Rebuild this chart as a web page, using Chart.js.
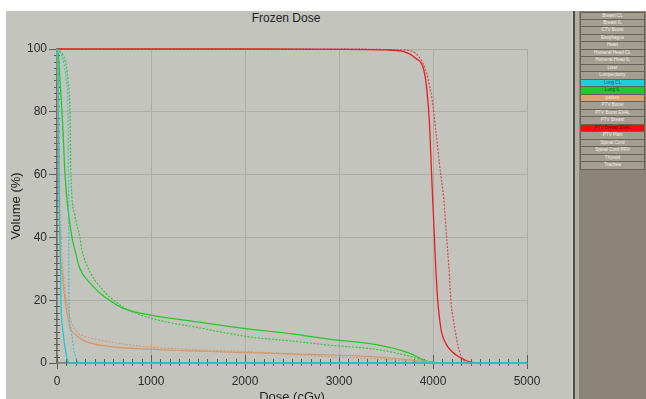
<!DOCTYPE html>
<html>
<head>
<meta charset="utf-8">
<script src="https://cdn.jsdelivr.net/npm/chart.js@4.4.1/dist/chart.umd.min.js"></script>
<style>
    html, body { margin: 0; padding: 0; background: #fff; overflow: hidden; width: 646px; height: 399px; }
    #plotBg { position: absolute; left: 6px; top: 11px; width: 566px; height: 388px; background: #c4c4bf; }
    #wrap { position: absolute; left: 0; top: 0; width: 572px; height: 410px; }
    #title { position: absolute; left: 0; top: 11px; width: 572px; height: 14px; line-height: 14px;
             text-align: center; font: 12px "Liberation Sans", Arial, sans-serif; color: #222; }
    #sepA { position: absolute; left: 572px; top: 11px; width: 1px; height: 388px; background: #d0d0cc; }
    #sepB { position: absolute; left: 573px; top: 11px; width: 2px; height: 388px; background: #4e4c46; }
    #sepC { position: absolute; left: 575px; top: 11px; width: 4px; height: 388px; background: #b2aea4; }
    #panel { position: absolute; left: 579px; top: 11px; width: 67px; height: 388px; background: #8c8577; }
    #list { position: absolute; left: 580px; top: 12px; width: 65px; }
    .item { box-sizing: border-box; height: 7.5px; border: 1px solid #66625a; border-top-width: 0;
            background: #a49e90; color: #f2efe8; font: 4.6px "Liberation Sans", Arial, sans-serif;
            line-height: 6.5px; text-align: center; white-space: nowrap; overflow: hidden; }
    .item:first-child { border-top-width: 1px; }
</style>
</head>
<body>
<div id="plotBg"></div>
<div id="title">Frozen Dose</div>
<div id="wrap"><canvas id="dvhChart" width="572" height="410"></canvas></div>
<div id="sepA"></div><div id="sepB"></div><div id="sepC"></div>
<div id="panel"></div>
<div id="list"></div>
<script>
// Structure list (right panel)
const structureNames = ['Breast CL', 'Breast IL', 'CTV Boost', 'Esophagus', 'Heart', 'Humeral Head CL',
    'Humeral Head IL', 'Liver', 'Lumpectomy', 'Lung CL', 'Lung IL', 'patient', 'PTV Boost',
    'PTV Boost EVAL', 'PTV Breast', 'PTV Breast EVAL', 'PTV Plan', 'Spinal Cord', 'Spinal Cord PRV',
    'Thyroid', 'Trachea'];
const highlighted = {
    'Lung CL': ['#19d3dc', '#1b4f70'],
    'Lung IL': ['#22c92a', '#10501a'],
    'patient': ['#d9a070', '#f4eadc'],
    'PTV Breast EVAL': ['#ff0a0a', '#5a0a0a']
};

// DVH curves: dose (cGy) / volume (%)
const redSolidDose = [0, 1000, 2000, 3000, 3500, 3670, 3817, 3900, 3935, 3965, 3985, 4000, 4015, 4030, 4050, 4070, 4093, 4140, 4190, 4300, 4430, 4500];
const redSolidVol  = [100, 100, 100, 99.9, 99.7, 99.3, 97, 93.6, 87, 75, 60, 50, 40, 30, 20, 14, 9.6, 6, 4, 1.5, 0.1, 0];
const redDotDose = [0, 1000, 2000, 3000, 3640, 3775, 3850, 3900, 3935, 3965, 3990, 4030, 4070, 4115, 4145, 4170, 4190, 4215, 4240, 4270, 4295, 4330, 4360];
const redDotVol  = [100, 100, 100, 100, 99.7, 99.3, 97.5, 95, 92, 88, 84, 74, 63, 52, 40, 30, 20, 14, 9.6, 5, 2.5, 0.8, 0];

const greenSolidDose = [0, 15, 32, 53, 70, 85, 117, 159, 190, 244, 350, 456, 700, 986, 1516, 2047, 2500, 2895, 3425, 3743, 3923, 4000, 4100];
const greenSolidVol  = [100, 98, 90, 80, 70, 60, 49, 40, 36, 30, 25.5, 22.3, 17.5, 15.3, 13, 10.8, 9.3, 7.6, 5.7, 3.2, 0.7, 0.2, 0];
const greenDotDose = [0, 40, 85, 117, 138, 148, 190, 244, 265, 340, 456, 700, 986, 1516, 2047, 2500, 2895, 3425, 3743, 3955, 4100];
const greenDotVol  = [100, 99, 96.5, 90, 80, 60, 47, 40, 36, 29.7, 24.3, 17.9, 14.4, 11.2, 8.3, 7, 5.7, 4.2, 2.2, 0.4, 0];

const cyanSolidDose = [0, 10, 15, 21, 32, 42, 64, 90, 117, 140, 5000];
const cyanSolidVol  = [100, 95, 85, 60, 40, 20, 10, 4, 0.5, 0, 0];
const cyanDotDose = [0, 30, 64, 100, 117, 122, 125, 127, 150, 180, 223, 250, 5000];
const cyanDotVol  = [100, 99, 96.5, 90, 80, 60, 40, 20, 10, 4, 0.3, 0, 0];

const orangeSolidDose = [0, 5, 10, 20, 32, 53, 85, 138, 200, 276, 456, 986, 2047, 2895, 3425, 3850, 4000, 4100];
const orangeSolidVol  = [100, 90, 75, 55, 36, 29.7, 20, 11.5, 9, 7.3, 5.7, 4.4, 3.3, 2.6, 1.9, 0.7, 0.2, 0];
const orangeDotDose = [0, 10, 25, 45, 64, 117, 212, 300, 456, 986, 2047, 2895, 3425, 3850, 4000];
const orangeDotVol  = [100, 85, 60, 40, 29.7, 17, 10, 8.5, 7.3, 5.1, 3.6, 2.0, 1.3, 0.4, 0];

// Axis ticks
const doseTicks = [0, 1000, 2000, 3000, 4000, 5000];
const volumeTicks = [0, 20, 40, 60, 80, 100];

const listEl = document.getElementById('list');
structureNames.forEach(name => {
    const d = document.createElement('div');
    d.className = 'item';
    d.textContent = name;
    if (highlighted[name]) {
        d.style.background = highlighted[name][0];
        d.style.color = highlighted[name][1];
    }
    listEl.appendChild(d);
});

function pts(xs, ys) {
    return xs.map((x, i) => ({ x: x, y: ys[i] }));
}

function series(label, xs, ys, color, dashed) {
    return {
        label: label,
        data: pts(xs, ys),
        borderColor: color,
        borderWidth: dashed ? 1.2 : 1.3,
        borderDash: dashed ? [2, 1.5] : [],
        pointRadius: 0,
        showLine: true,
        fill: false,
        clip: 3,
        cubicInterpolationMode: 'monotone'
    };
}

// Minor ticks crossing the axes
const minorTicks = {
    id: 'minorTicks',
    beforeDatasetsDraw(chart) {
        const ctx = chart.ctx;
        const xs = chart.scales.x, ys = chart.scales.y;
        const x0 = xs.getPixelForValue(0), y0 = ys.getPixelForValue(0);
        ctx.save();
        ctx.strokeStyle = '#5e5e5a';
        ctx.lineWidth = 1;
        ctx.beginPath();
        for (let v = 2; v <= 100; v += 2) {
            if (v % 20 === 0) continue;
            const y = Math.round(ys.getPixelForValue(v)) + 0.5;
            ctx.moveTo(x0 - 3, y); ctx.lineTo(x0 + 3, y);
        }
        for (let v = 100; v <= 5000; v += 100) {
            if (v % 1000 === 0) continue;
            const x = Math.round(xs.getPixelForValue(v)) + 0.5;
            ctx.moveTo(x, y0 - 4); ctx.lineTo(x, y0 + 3);
        }
        for (const v of doseTicks) {
            const x = Math.round(xs.getPixelForValue(v)) + 0.5;
            ctx.moveTo(x, y0 - 8); ctx.lineTo(x, y0);
        }
        ctx.stroke();
        ctx.restore();
    }
};

new Chart(document.getElementById('dvhChart'), {
    type: 'scatter',
    data: {
        datasets: [
            series('Lung CL', cyanSolidDose, cyanSolidVol, 'rgb(32,200,212)', false),
            series('Lung CL frozen', cyanDotDose, cyanDotVol, 'rgba(32,200,212,0.9)', true),
            series('patient', orangeSolidDose, orangeSolidVol, 'rgb(214,152,104)', false),
            series('patient frozen', orangeDotDose, orangeDotVol, 'rgba(214,152,104,0.9)', true),
            series('Lung IL', greenSolidDose, greenSolidVol, 'rgb(38,200,38)', false),
            series('Lung IL frozen', greenDotDose, greenDotVol, 'rgba(38,200,38,0.9)', true),
            series('PTV Breast EVAL', redSolidDose, redSolidVol, 'rgb(232,30,30)', false),
            series('PTV Breast EVAL frozen', redDotDose, redDotVol, 'rgba(232,30,30,0.75)', true)
        ]
    },
    options: {
        responsive: false,
        animation: false,
        layout: { padding: { left: 0, top: 49, right: 45, bottom: 0 } },
        plugins: {
            legend: { display: false },
            tooltip: { enabled: false }
        },
        scales: {
            x: {
                type: 'linear', min: 0, max: 5000,
                afterBuildTicks: s => { s.ticks = doseTicks.map(v => ({ value: v })); },
                afterFit: s => { s.height = 47; },
                ticks: { color: '#2a2a2a', font: { family: 'Liberation Sans', size: 12 }, padding: 5, maxRotation: 0,
                         callback: v => String(v) },
                grid: { color: '#adada8', tickColor: '#5e5e5a', tickLength: 6, lineWidth: 1 },
                border: { color: '#7c7c78', width: 1.5 },
                title: { display: true, text: 'Dose (cGy)', color: '#222', font: { family: 'Liberation Sans', size: 13 }, padding: { top: 0, bottom: 5 } }
            },
            y: {
                type: 'linear', min: 0, max: 100,
                afterBuildTicks: s => { s.ticks = volumeTicks.map(v => ({ value: v })); },
                afterFit: s => { s.width = 57; },
                ticks: { color: '#2a2a2a', font: { family: 'Liberation Sans', size: 12 }, padding: 2,
                         callback: v => String(v) },
                grid: { color: '#adada8', tickColor: '#5e5e5a', tickLength: 8, lineWidth: 1 },
                border: { color: '#6e6e6a', width: 1.5 },
                title: { display: true, text: 'Volume (%)', color: '#222', font: { family: 'Liberation Sans', size: 13 }, padding: { top: 9, bottom: 0 } }
            }
        }
    },
    plugins: [minorTicks]
});
</script>
</body>
</html>
